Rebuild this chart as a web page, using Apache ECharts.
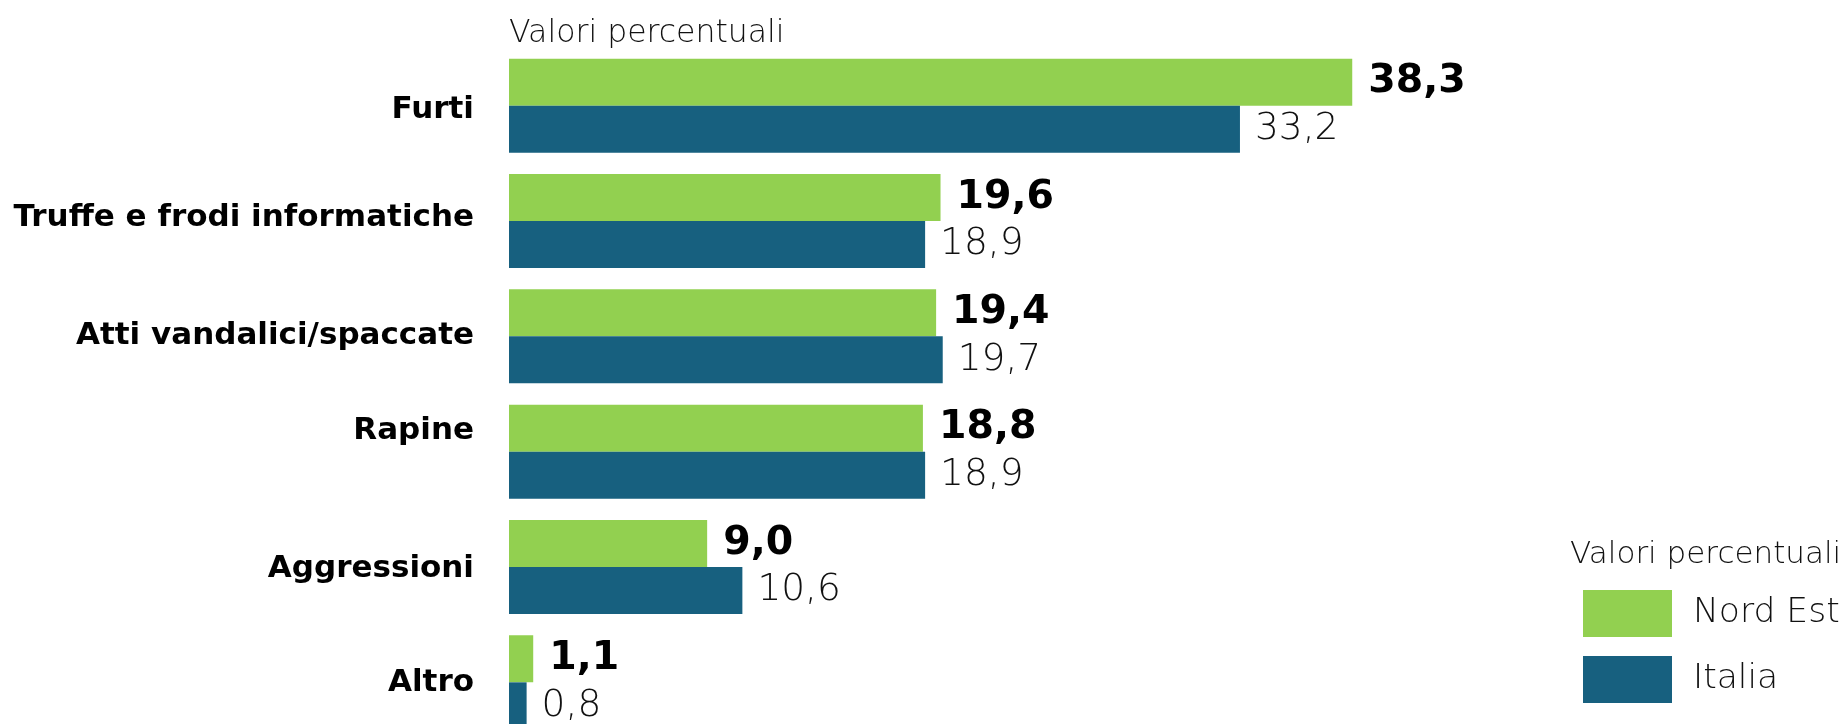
<!DOCTYPE html>
<html>
<head>
<meta charset="utf-8">
<script src="https://cdn.jsdelivr.net/npm/echarts@6/dist/echarts.min.js"></script>
<style>
  html, body { margin: 0; padding: 0; background: #fff; }
  #main { width: 1847px; height: 724px; }
</style>
</head>
<body>
<div id="main"></div>
<script>
// categorie e valori (percentuali)
var categories = ['Furti', 'Truffe e frodi informatiche', 'Atti vandalici/spaccate', 'Rapine', 'Aggressioni', 'Altro'];
var nordEst = [38.3, 19.6, 19.4, 18.8, 9.0, 1.1];
var italia = [33.2, 18.9, 19.7, 18.9, 10.6, 0.8];
var seriesNames = ['Nord Est', 'Italia'];

var FONT = '"DejaVu Sans", Lato, sans-serif';

// piccoli spostamenti verticali delle etichette come nell'originale (px, + = in basso)
var labelShift = [4, -3, 0, -21, 2, 1];

function fmt(v) {
  return v.toFixed(1).replace('.', ',');
}

// stili rich per spostare le etichette delle categorie
var catRich = {};
categories.forEach(function (c, i) {
  var s = labelShift[i];
  catRich['c' + i] = {
    fontFamily: FONT,
    fontSize: 31,
    fontWeight: 'bold',
    color: '#000',
    padding: s > 0 ? [2 * s, 0, 0, 0] : [0, 0, -2 * s, 0]
  };
});

var myChart = echarts.init(document.getElementById('main'));

var option = {
  animation: false,
  textStyle: { fontFamily: FONT },
  title: [
    {
      text: 'Valori percentuali',
      left: 504,
      top: 13,
      textStyle: { fontFamily: FONT, fontSize: 31.5, fontWeight: 200, color: '#111' }
    },
    {
      text: 'Valori percentuali',
      left: 1565,
      top: 534,
      textStyle: { fontFamily: FONT, fontSize: 31, fontWeight: 200, color: '#111' }
    }
  ],
  legend: {
    orient: 'vertical',
    left: 1578,
    top: 585,
    itemWidth: 89,
    itemHeight: 47,
    itemGap: 19,
    icon: 'rect',
    data: seriesNames,
    textStyle: { fontFamily: FONT, fontSize: 34.5, fontWeight: 200, color: '#111', padding: [0, 0, 0, 16] }
  },
  grid: {
    left: 509,
    right: 17,
    top: 48,
    height: 692,
    containLabel: false,
    outerBoundsMode: 'none'
  },
  xAxis: {
    type: 'value',
    min: 0,
    max: 60,
    show: false
  },
  yAxis: {
    type: 'category',
    inverse: true,
    data: categories,
    axisLine: { show: false },
    axisTick: { show: false },
    axisLabel: {
      margin: 35,
      fontFamily: FONT,
      fontSize: 31,
      fontWeight: 'bold',
      color: '#000',
      rich: catRich,
      formatter: function (value) {
        var i = categories.indexOf(value);
        return '{c' + i + '|' + value + '}';
      }
    }
  },
  series: [
    {
      name: seriesNames[0],
      type: 'bar',
      data: nordEst,
      barGap: '0%',
      barCategoryGap: '18.5%',
      itemStyle: { color: '#92D050' },
      label: {
        show: true,
        position: 'right',
        distance: 16,
        fontFamily: FONT,
        fontSize: 39.5,
        fontWeight: 'bold',
        color: '#000',
        formatter: function (p) { return fmt(p.value); }
      }
    },
    {
      name: seriesNames[1],
      type: 'bar',
      data: italia,
      barGap: '0%',
      barCategoryGap: '18.5%',
      itemStyle: { color: '#17607F' },
      label: {
        show: true,
        position: 'right',
        distance: 15,
        fontFamily: FONT,
        fontSize: 37.5,
        fontWeight: 200,
        color: '#111',
        formatter: function (p) { return fmt(p.value); }
      }
    }
  ]
};

myChart.setOption(option);
</script>
</body>
</html>
